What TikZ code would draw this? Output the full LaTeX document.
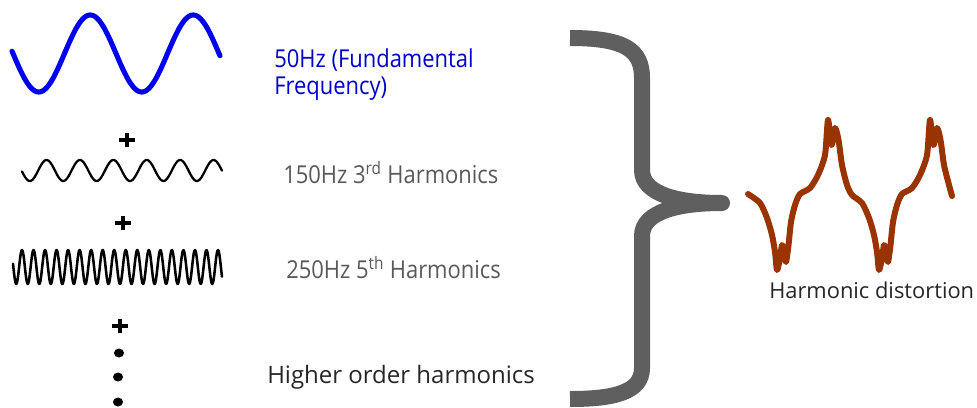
\documentclass[tikz,border=0pt]{standalone}
\usepackage{fontspec}
\setmainfont{Open Sans}
\newfontfamily\narrowsans{Open Sans}[FakeStretch=0.89]
\definecolor{fundblue}{RGB}{0,0,240}
\definecolor{txtblue}{RGB}{0,0,200}
\definecolor{txtgray}{RGB}{89,89,89}
\definecolor{txtdark}{RGB}{38,38,38}
\definecolor{bracegray}{RGB}{95,95,95}
\definecolor{distbrown}{RGB}{153,51,0}
\begin{document}
\begin{tikzpicture}[x=0.75pt,y=-0.75pt,
  lbl/.style={inner sep=0pt, anchor=base west, font=\narrowsans\fontsize{18.5}{19}\selectfont},
  wavefund/.style={fundblue, line width=3.8pt, line cap=round, line join=round},
  waveblack/.style={black, line width=1.7pt, line cap=round, line join=round},
  bracestroke/.style={bracegray, line width=12pt, line cap=butt},
  plusmark/.style={black, line width=2.3pt},
  dotmark/.style={black, fill=black},
  distwave/.style={distbrown, line width=4.5pt, line cap=round, line join=round}]
\useasboundingbox (0,0) rectangle (977,407);

% waves
\draw[wavefund] plot[domain=12:220, samples=220, smooth] (\x, {53.5+38.5*sin(3.49515*(\x-13))});
\draw[waveblack] plot[domain=22:222, samples=240, smooth] (\x, {170.5+10.5*sin(10.7784*(\x-21.5))});
\draw[waveblack, line width=1.9pt] plot[domain=13:222, samples=400, smooth] (\x, {267-17*cos(31.2229*(\x-22))});

% plus signs and dots
\coordinate (p1) at (127,140);
\coordinate (p2) at (123,223);
\coordinate (p3) at (120,326);
\foreach \p in {p1,p2,p3}{
  \draw[plusmark] ([xshift=-6pt]\p) -- ([xshift=6pt]\p);
  \draw[plusmark] ([yshift=-5.6pt]\p) -- ([yshift=5.6pt]\p);
}
\fill[dotmark] (119,353) ellipse [x radius=5, y radius=4.5];
\fill[dotmark] (118,377) ellipse [x radius=5, y radius=4.5];
\fill[dotmark] (118,402) ellipse [x radius=5, y radius=4.5];

% labels
\node[lbl, txtblue] (fund1) at (274,67) {50Hz (Fundamental};
\node[lbl, txtblue] (fund2) at (274,94) {Frequency)};
\node[lbl, txtgray] (h3) at (283,183) {150Hz 3\textsuperscript{rd} Harmonics};
\node[lbl, txtgray] (h5) at (286,278) {250Hz 5\textsuperscript{th} Harmonics};
\node[lbl, txtdark, font=\fontsize{18}{19}\selectfont] (hh) at (267,383) {Higher order harmonics};
\node[lbl, txtdark, font=\fontsize{16.4}{17}\selectfont] (hd) at (769,298) {Harmonic distortion};

% brace
\coordinate (tip) at (722,203);
\draw[bracestroke] (570,38) .. controls (625,38) and (642,50) .. (642,78)
  -- (642,170) .. controls (642,195) and (680,203) .. (tip);
\draw[bracestroke] (tip) .. controls (680,203) and (642,211) .. (642,236)
  -- (642,368) .. controls (642,392) and (615,399) .. (570,399);
\fill[bracegray] (tip) circle (8);

% distorted wave
\draw[distwave] plot[smooth, tension=0.45] coordinates {
 (748,194) (760,203) (767,218) (772,235) (775,252) (777,270) (780,258) (782,245)
 (784,252) (786,262) (788.5,245) (791,222) (795,205) (800,194) (810,188) (818,175)
 (825,155) (828,120) (831.5,145) (835,128) (838.5,140) (842,165) (847,185) (852,195)
 (862,203) (869,218) (874,235) (877,252) (879,270) (882,258) (884,245)
 (886,252) (888,262) (890.5,245) (893,222) (897,205) (902,194) (912,188) (920,175)
 (927,155) (930,120) (933.5,145) (937,128) (940.5,140) (944,165) (949,185) (952,196)};
\end{tikzpicture}
\end{document}
